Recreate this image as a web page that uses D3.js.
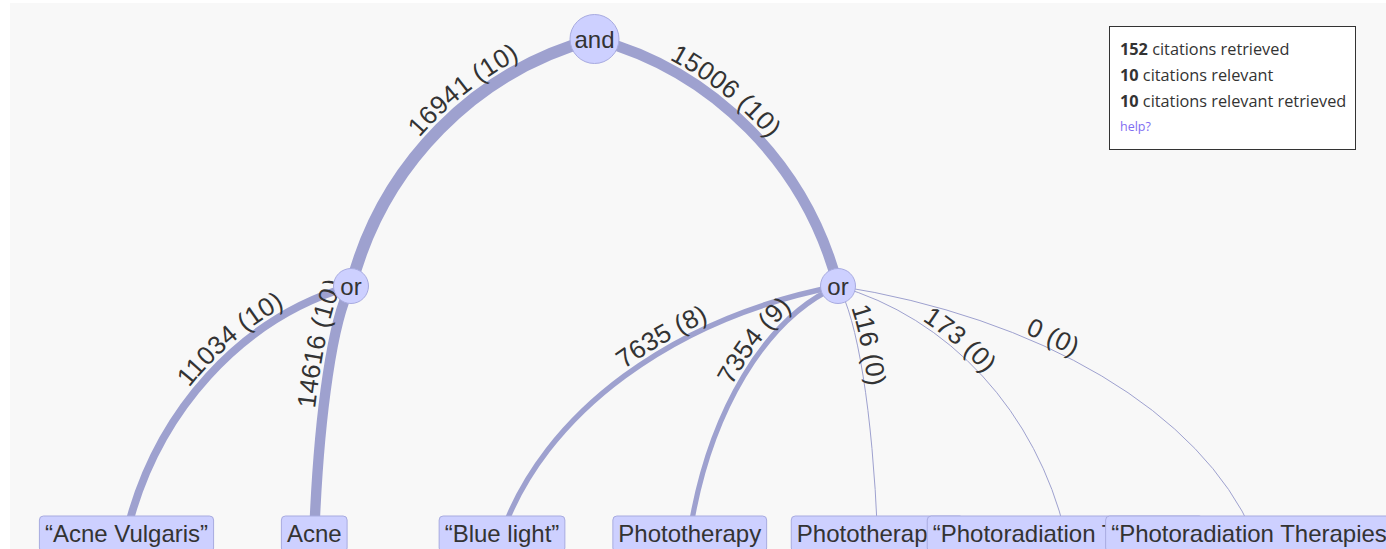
<!DOCTYPE html>
<html>
<head>
<meta charset="utf-8">
<script src="https://cdn.jsdelivr.net/npm/d3@7/dist/d3.min.js"></script>
<style>
  html, body { margin:0; padding:0; width:1386px; height:549px; overflow:hidden; background:#ffffff; }
  #panel { position:absolute; left:10px; top:3px; width:1376px; height:546px; background:#f8f8f8; }
  #chart { position:absolute; left:0; top:0; }
  #legend { position:absolute; left:1109px; top:26px; width:235px; height:113px; padding:9px 0 0 10px;
            background:#ffffff; border:1px solid #333; font-family:"Open Sans", sans-serif; font-size:16.3px;
            color:#333; line-height:26px; }
  #legend b { font-weight:700; }
  #legend .help { font-size:12.5px; color:#7f6df2; }
</style>
</head>
<body>
<div id="panel"></div>
<svg id="chart" width="1386" height="549"></svg>
<div id="legend"></div>
<script>
// ---------------- data ----------------
const operatorLabels    = ["and", "or", "or"];
const operatorParent    = [null, 0, 0];
const operatorRetrieved = [null, 16941, 15006];
const operatorRelevant  = [null, 10, 10];

const leafLabels    = ["“Acne Vulgaris”", "Acne", "“Blue light”", "Phototherapy", "Phototherapies",
                       "“Photoradiation Therapy”", "“Photoradiation Therapies”"];
const leafParent    = [1, 1, 2, 2, 2, 2, 2];
const leafRetrieved = [11034, 14616, 7635, 7354, 116, 173, 0];
const leafRelevant  = [10, 10, 8, 9, 0, 0, 0];

const legendValues = [152, 10, 10];
const legendTexts  = ["citations retrieved", "citations relevant", "citations relevant retrieved"];
const helpText = "help?";

// ---------------- hierarchy ----------------
const table = [];
operatorLabels.forEach((l, i) => table.push({id: "op" + i, parent: operatorParent[i] === null ? null : "op" + operatorParent[i],
  label: l, kind: "op", retrieved: operatorRetrieved[i], relevant: operatorRelevant[i]}));
leafLabels.forEach((l, i) => table.push({id: "leaf" + i, parent: "op" + leafParent[i],
  label: l, kind: "leaf", retrieved: leafRetrieved[i], relevant: leafRelevant[i]}));

const root = d3.stratify().id(d => d.id).parentId(d => d.parent)(table);
d3.tree().nodeSize([1, 1])(root);

const opNodes = root.descendants().filter(d => d.data.kind === "op");
const leafNodes = root.leaves();

const xTree = d3.scaleLinear().domain([-2.25, 2.25]).range([351, 838]);
const xLeaf = d3.scalePoint().domain(leafLabels).range([126.5, 1253]);
const yDepth = d3.scaleLinear().domain([0, 2]).range([39, 533]);
const wScale = d3.scaleLinear().domain([0, 16941]).range([0, 12]);

root.descendants().forEach(d => {
  d.px = d.data.kind === "leaf" ? xLeaf(d.data.label) : xTree(d.x);
  d.py = yDepth(d.depth);
});

const svg = d3.select("#chart");
const font = "'Liberation Sans', Arial, sans-serif";
const edgeColor = "#9ea1cf";
const nodeFill = "#cdd0ff";
const nodeStroke = "#a8abe0";

// elliptical arc, always drawn from the left end to the right end
function arcPath(a, b) {
  const [l, r] = a.px <= b.px ? [a, b] : [b, a];
  const rx = Math.max(1e-3, Math.abs(r.px - l.px) * 1.4);
  const ry = Math.max(1e-3, Math.abs(r.py - l.py) * 1.4);
  return `M${l.px},${l.py}A${rx},${ry} 0 0,1 ${r.px},${r.py}`;
}

const links = root.links();
const gEdges = svg.append("g");
const gLabels = svg.append("g");

links.forEach((lk, i) => {
  const w = Math.max(1, wScale(lk.target.data.retrieved));
  const p = gEdges.append("path")
    .attr("id", "edge" + i)
    .attr("d", arcPath(lk.source, lk.target))
    .attr("fill", "none")
    .attr("stroke", edgeColor)
    .attr("stroke-width", w);
  // label position: point of the arc a quarter of the way down from the parent
  const node = p.node();
  const total = node.getTotalLength();
  const yT = lk.source.py + 0.25 * (lk.target.py - lk.source.py);
  let best = 0, bestD = Infinity;
  for (let s = 0; s <= total; s += 0.5) {
    const pt = node.getPointAtLength(s);
    const dd = Math.abs(pt.y - yT);
    if (dd < bestD) { bestD = dd; best = s; }
  }
  gLabels.append("text")
    .attr("font-family", font)
    .attr("font-size", 26)
    .attr("fill", "#333")
    .attr("dy", -(w / 2 + 3))
    .append("textPath")
    .attr("href", "#edge" + i)
    .attr("startOffset", best)
    .attr("text-anchor", "middle")
    .text(`${lk.target.data.retrieved} (${lk.target.data.relevant})`);
});

// operator nodes
const gOps = svg.append("g").selectAll("g").data(opNodes).join("g")
  .attr("transform", d => `translate(${d.px},${d.py})`);
gOps.append("circle")
  .attr("r", d => d.data.label.length > 2 ? 24.5 : 17.5)
  .attr("fill", nodeFill).attr("stroke", nodeStroke).attr("stroke-width", 1);
gOps.append("text")
  .attr("text-anchor", "middle").attr("y", 8.5)
  .attr("font-family", font).attr("font-size", 24).attr("fill", "#333")
  .text(d => d.data.label);

// leaf nodes
const gLeaf = svg.append("g").selectAll("g").data(leafNodes).join("g")
  .attr("transform", d => `translate(${d.px},${d.py})`);
gLeaf.each(function(d) {
  const g = d3.select(this);
  const rect = g.append("rect");
  const t = g.append("text")
    .attr("text-anchor", "middle").attr("y", 8.5)
    .attr("font-family", font).attr("font-size", 24).attr("fill", "#333")
    .text(d.data.label);
  const tw = t.node().getComputedTextLength();
  rect.attr("x", -tw / 2 - 5.5).attr("width", tw + 11)
    .attr("y", -17).attr("height", 36).attr("rx", 4)
    .attr("fill", nodeFill).attr("stroke", nodeStroke).attr("stroke-width", 1);
});

// legend
const legend = d3.select("#legend");
legendValues.forEach((v, i) => {
  const row = legend.append("div");
  row.append("b").text(v);
  row.append("span").text(" " + legendTexts[i]);
});
legend.append("div").attr("class", "help").text(helpText);
</script>
</body>
</html>
